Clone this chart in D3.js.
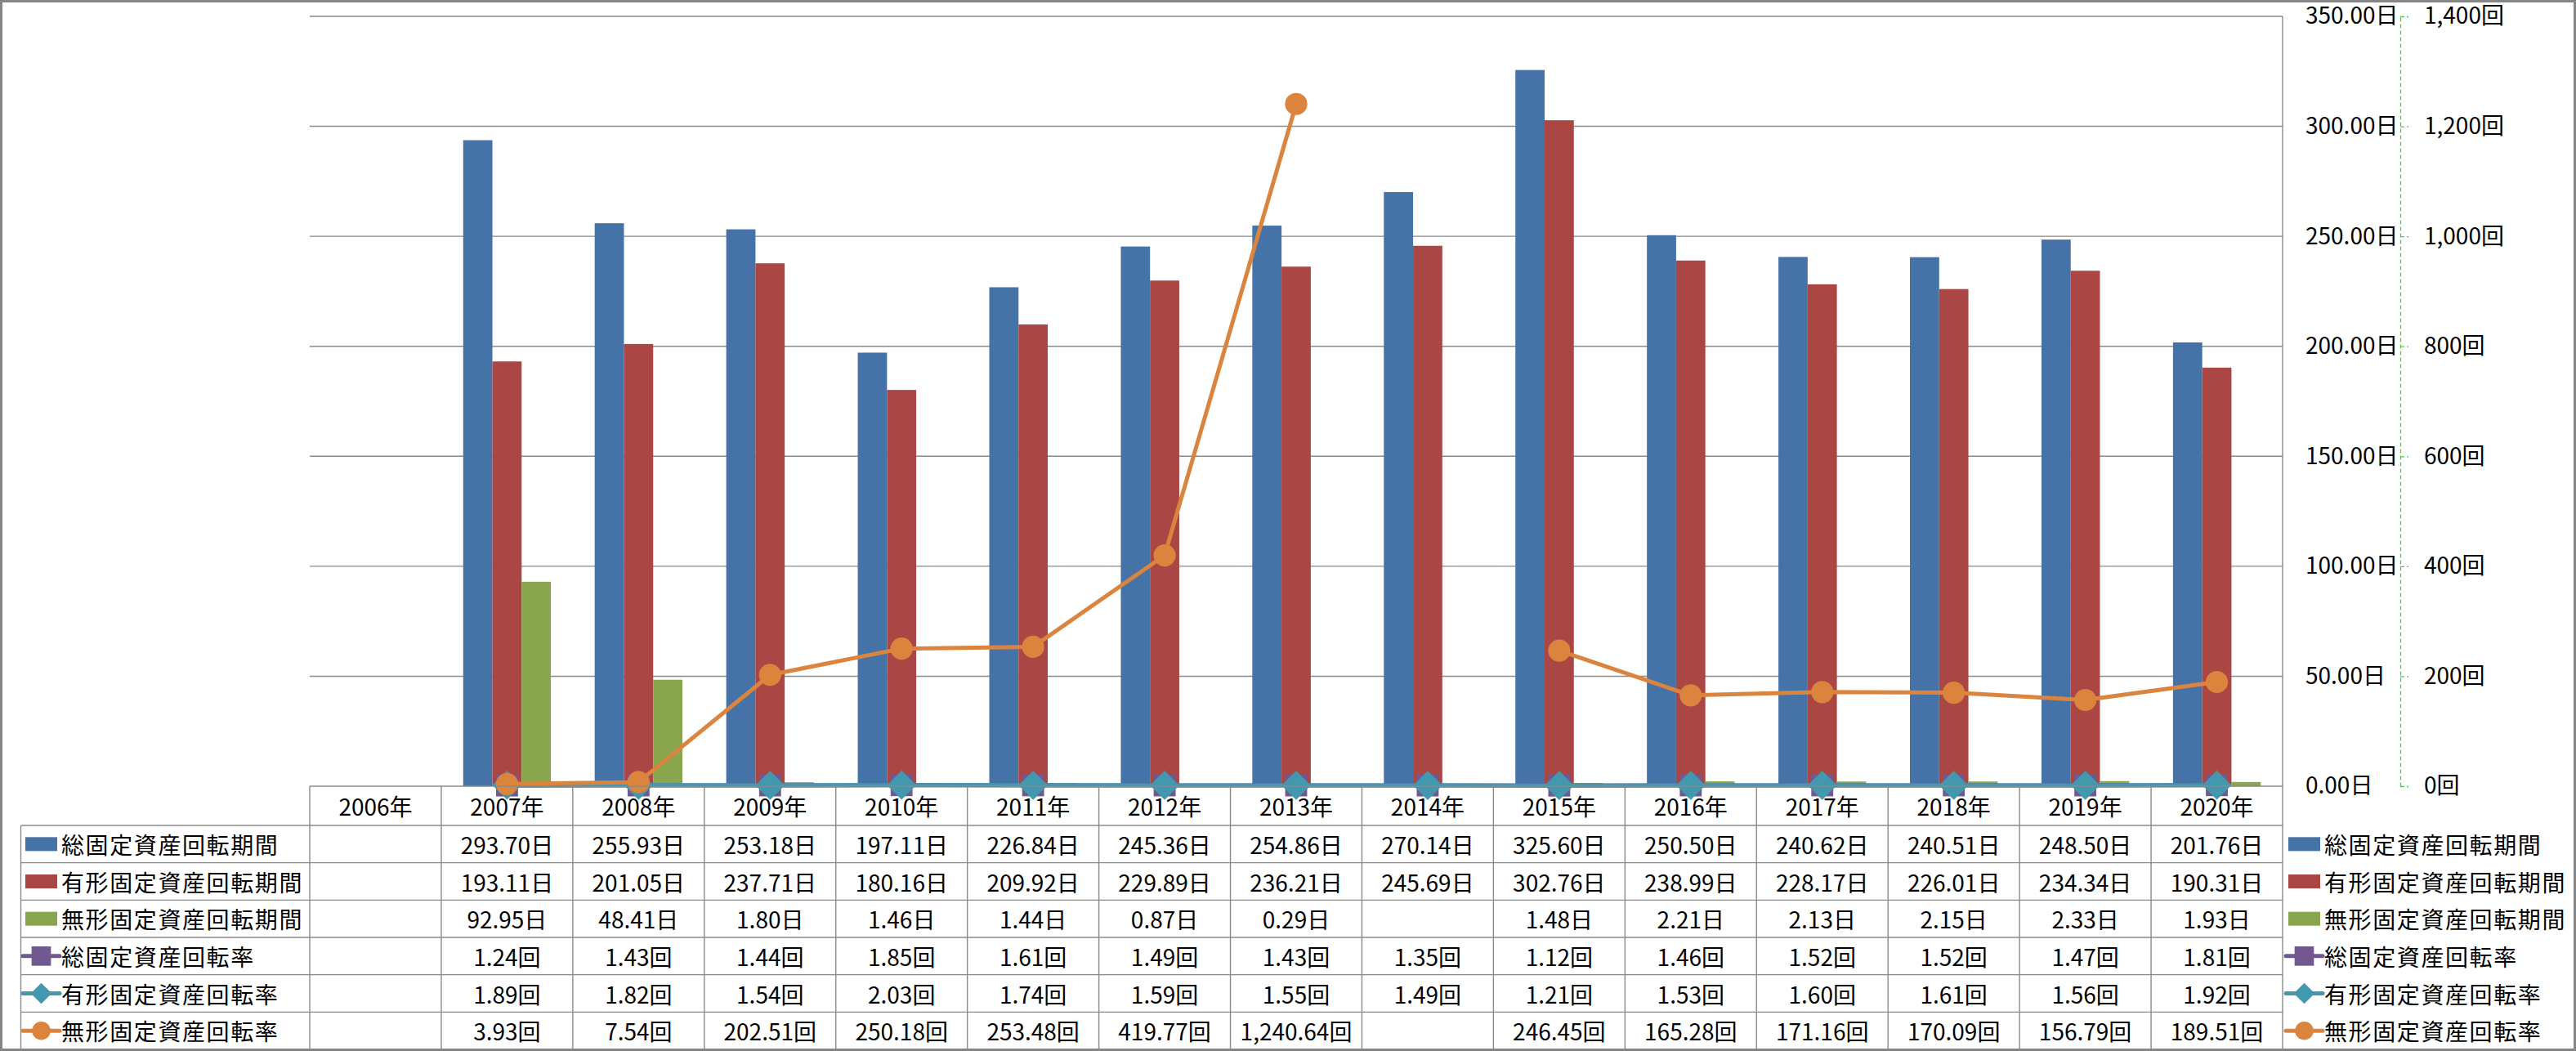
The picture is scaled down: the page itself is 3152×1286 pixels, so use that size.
<!DOCTYPE html>
<html>
<head>
<meta charset="utf-8">
<script src="https://cdn.jsdelivr.net/npm/d3@7"></script>
<style>
  body { margin: 0; background: #fff; }
  svg { display: block; font-family: "Noto Sans CJK JP", sans-serif; }
</style>
</head>
<body>
<svg id="chart"></svg>
<script>

const years = ['2006年', '2007年', '2008年', '2009年', '2010年', '2011年', '2012年', '2013年',
  '2014年', '2015年', '2016年', '2017年', '2018年', '2019年', '2020年'];

// 日 (bars, left scale)
const totalPeriod = [null, 293.70, 255.93, 253.18, 197.11, 226.84, 245.36, 254.86, 270.14, 325.60, 250.50, 240.62, 240.51, 248.50, 201.76];
const tangiblePeriod = [null, 193.11, 201.05, 237.71, 180.16, 209.92, 229.89, 236.21, 245.69, 302.76, 238.99, 228.17, 226.01, 234.34, 190.31];
const intangiblePeriod = [null, 92.95, 48.41, 1.80, 1.46, 1.44, 0.87, 0.29, null, 1.48, 2.21, 2.13, 2.15, 2.33, 1.93];

// 回 (lines, right scale)
const totalTurnover = [null, 1.24, 1.43, 1.44, 1.85, 1.61, 1.49, 1.43, 1.35, 1.12, 1.46, 1.52, 1.52, 1.47, 1.81];
const tangibleTurnover = [null, 1.89, 1.82, 1.54, 2.03, 1.74, 1.59, 1.55, 1.49, 1.21, 1.53, 1.60, 1.61, 1.56, 1.92];
const intangibleTurnover = [null, 3.93, 7.54, 202.51, 250.18, 253.48, 419.77, 1240.64, null, 246.45, 165.28, 171.16, 170.09, 156.79, 189.51];

const dayTicks = [0, 50, 100, 150, 200, 250, 300, 350];
const countTicks = [0, 200, 400, 600, 800, 1000, 1200, 1400];

const series = [
  {name: '総固定資産回転期間', values: totalPeriod, type: 'bar', unit: '日', color: '#4572A7'},
  {name: '有形固定資産回転期間', values: tangiblePeriod, type: 'bar', unit: '日', color: '#AA4643'},
  {name: '無形固定資産回転期間', values: intangiblePeriod, type: 'bar', unit: '日', color: '#89A54E'},
  {name: '総固定資産回転率', values: totalTurnover, type: 'line', unit: '回', color: '#71588F', marker: 'square'},
  {name: '有形固定資産回転率', values: tangibleTurnover, type: 'line', unit: '回', color: '#4198AF', marker: 'diamond'},
  {name: '無形固定資産回転率', values: intangibleTurnover, type: 'line', unit: '回', color: '#DB843D', marker: 'circle'}
];

const W = 3152, H = 1286;
const plot = {left: 379, right: 2793, top: 20, bottom: 962};
const table = {left: 25.5, headerBottom: 1010, bottom: 1284};
const rowH = (table.bottom - table.headerBottom) / series.length;
const gridColor = '#8a8a8a';
const fontSize = 28;

const svg = d3.select('#chart').attr('width', W).attr('height', H);

const x = d3.scaleBand().domain(years).range([plot.left, plot.right]);
const bw = x.bandwidth();
const barSeries = series.filter(s => s.type === 'bar');
const x1 = d3.scaleBand()
    .domain(barSeries.map(s => s.name))
    .range([bw * 0.75 / 4.5, bw - bw * 0.75 / 4.5]);

const y = d3.scaleLinear().domain([0, 350]).range([plot.bottom, plot.top]);
const y2 = d3.scaleLinear().domain([0, 1400]).range([plot.bottom, plot.top]);

// gridlines
svg.append('g')
  .selectAll('line')
  .data(dayTicks.filter(d => d > 0))
  .join('line')
    .attr('x1', plot.left).attr('x2', plot.right)
    .attr('y1', d => y(d)).attr('y2', d => y(d))
    .attr('stroke', gridColor).attr('stroke-width', 1.4);

// bars
barSeries.forEach(function(s) {
  svg.append('g')
    .selectAll('rect')
    .data(years.map((yr, i) => ({yr: yr, v: s.values[i]})).filter(d => d.v != null))
    .join('rect')
      .attr('x', d => x(d.yr) + x1(s.name))
      .attr('width', x1.bandwidth())
      .attr('y', d => y(d.v))
      .attr('height', d => y(0) - y(d.v))
      .attr('fill', s.color);
});

function markerPath(kind, big) {
  if (kind === 'circle') return d3.symbol(d3.symbolCircle, big ? 580 : 400)();
  if (kind === 'square') return d3.symbol(d3.symbolSquare, big ? 720 : 560)();
  return d3.symbol(d3.symbolSquare, big ? 640 : 330)();
}

// lines with markers
series.filter(s => s.type === 'line').forEach(function(s) {
  const pts = years.map((yr, i) => ({yr: yr, v: s.values[i]}));
  const line = d3.line()
    .defined(d => d.v != null)
    .x(d => x(d.yr) + bw / 2)
    .y(d => y2(d.v));

  svg.append('path')
    .datum(pts)
    .attr('fill', 'none')
    .attr('stroke', s.color)
    .attr('stroke-width', 5)
    .attr('stroke-linejoin', 'round')
    .attr('d', line);

  svg.append('g')
    .selectAll('path')
    .data(pts.filter(d => d.v != null))
    .join('path')
      .attr('d', markerPath(s.marker, true))
      .attr('transform', d => 'translate(' + (x(d.yr) + bw / 2) + ',' + y2(d.v) + ')' +
        (s.marker === 'diamond' ? ' rotate(45)' : ''))
      .attr('fill', s.color);
});

// left value axis (drawn on the right side)
const axisDays = svg.append('g')
  .attr('transform', 'translate(' + plot.right + ',0)')
  .call(d3.axisRight(y).tickValues(dayTicks).tickSize(0).tickPadding(28)
    .tickFormat(d => d3.format('.2f')(d) + '日'));
axisDays.select('.domain').remove();

// secondary axis
const axisCount = svg.append('g')
  .attr('transform', 'translate(2937,0)')
  .call(d3.axisRight(y2).tickValues(countTicks).tickSize(10).tickSizeOuter(0).tickPadding(19)
    .tickFormat(d => d3.format(',')(d) + '回'));
axisCount.select('.domain').attr('stroke', '#33dd33').attr('stroke-width', 1.3).attr('stroke-dasharray', '5,3');
axisCount.selectAll('.tick line').attr('stroke', '#33dd33').attr('stroke-width', 1.3).attr('stroke-dasharray', '5,3');

svg.selectAll('.tick text')
  .attr('font-size', fontSize)
  .attr('font-family', '"Noto Sans CJK JP", sans-serif')
  .attr('fill', '#000');

// data table
const tbl = svg.append('g');
const rowY = i => table.headerBottom + i * rowH;

// horizontal lines
tbl.append('line')
  .attr('x1', plot.left).attr('x2', plot.right)
  .attr('y1', plot.bottom).attr('y2', plot.bottom);
tbl.selectAll('.hrow')
  .data(d3.range(series.length + 1))
  .join('line')
    .attr('x1', table.left).attr('x2', plot.right)
    .attr('y1', d => rowY(d)).attr('y2', d => rowY(d));

// vertical lines
tbl.selectAll('.vcol')
  .data(years.concat(['end']))
  .join('line')
    .attr('x1', d => d === 'end' ? plot.right : x(d))
    .attr('x2', d => d === 'end' ? plot.right : x(d))
    .attr('y1', d => d === 'end' ? plot.top : plot.bottom)
    .attr('y2', table.bottom);
tbl.append('line')
  .attr('x1', table.left).attr('x2', table.left)
  .attr('y1', table.headerBottom).attr('y2', table.bottom);

tbl.selectAll('line').attr('stroke', gridColor).attr('stroke-width', 1.4);

// header labels
tbl.selectAll('.yr')
  .data(years)
  .join('text')
    .attr('x', d => x(d) + bw / 2)
    .attr('y', (plot.bottom + table.headerBottom) / 2)
    .attr('text-anchor', 'middle')
    .attr('dominant-baseline', 'central')
    .attr('font-size', fontSize)
    .text(d => d);

// cell values
series.forEach(function(s, r) {
  tbl.append('g')
    .selectAll('text')
    .data(years.map((yr, i) => ({yr: yr, v: s.values[i]})).filter(d => d.v != null))
    .join('text')
      .attr('x', d => x(d.yr) + bw / 2)
      .attr('y', rowY(r) + rowH / 2)
      .attr('text-anchor', 'middle')
      .attr('dominant-baseline', 'central')
      .attr('font-size', fontSize)
      .text(d => d3.format(',.2f')(d.v) + s.unit);
});

// legend keys (inside the table and to its right)
function drawKey(g, s, kx) {
  if (s.type === 'bar') {
    g.append('rect').attr('x', kx).attr('y', -8.5).attr('width', 39).attr('height', 17).attr('fill', s.color);
  } else {
    g.append('line').attr('x1', kx - 3).attr('x2', kx + 42).attr('y1', 0).attr('y2', 0)
      .attr('stroke', s.color).attr('stroke-width', 5).attr('stroke-linecap', 'round');
    g.append('path').attr('d', markerPath(s.marker, false))
      .attr('transform', 'translate(' + (kx + 19.5) + ',0)' + (s.marker === 'diamond' ? ' rotate(45)' : ''))
      .attr('fill', s.color);
  }
  g.append('text')
    .attr('x', kx + 44)
    .attr('dominant-baseline', 'central')
    .attr('font-size', fontSize)
    .attr('letter-spacing', 1.6)
    .text(s.name);
}

series.forEach(function(s, r) {
  const cy = rowY(r) + rowH / 2;
  drawKey(svg.append('g').attr('transform', 'translate(0,' + cy + ')'), s, 31);
  drawKey(svg.append('g').attr('transform', 'translate(0,' + cy + ')'), s, 2800);
});

// chart border
svg.append('rect')
  .attr('x', 1.5).attr('y', 1.5)
  .attr('width', W - 3).attr('height', H - 3)
  .attr('fill', 'none')
  .attr('stroke', '#868686')
  .attr('stroke-width', 3);

</script>
</body>
</html>
